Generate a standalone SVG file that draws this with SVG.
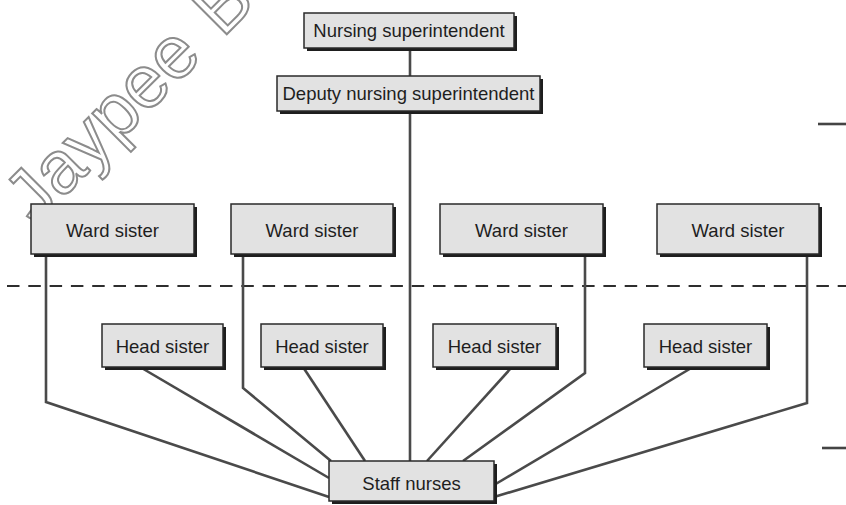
<svg xmlns="http://www.w3.org/2000/svg" width="846" height="505" viewBox="0 0 846 505">
  <style>
    .box { fill: #e2e2e2; stroke: #2a2a2a; stroke-width: 1.5; }
    .shadow { fill: #1e1e1e; }
    .label { font-family: "Liberation Sans", Arial, sans-serif; font-size: 18.5px; fill: #1e1e1e; text-anchor: middle; }
    .link { fill: none; stroke: #4a4a4a; stroke-width: 2.6; stroke-linejoin: miter; }
    .divider { stroke: #2e2e2e; stroke-width: 2.2; stroke-dasharray: 12.5 8.8; }
    .tick { stroke: #444; stroke-width: 2.6; }
    .mark { font-family: "Liberation Sans", Arial, sans-serif; font-size: 74px; fill: none; stroke: #8c8c8c; stroke-width: 2; }
  </style>

  <rect width="846" height="505" fill="#ffffff"/>

  <!-- publisher mark -->
  <text class="mark" transform="translate(35 226) rotate(-45)">Jaypee <tspan dx="6">B</tspan></text>

  <!-- level divider and margin ticks -->
  <line class="divider" x1="7" y1="286" x2="846" y2="286"/>
  <line class="tick" x1="818" y1="124" x2="846" y2="124"/>
  <line class="tick" x1="822" y1="448" x2="846" y2="448"/>

  <!-- reporting lines -->
  <g id="connectors">
    <line class="link" x1="410" y1="48" x2="410" y2="76"/>
    <line class="link" x1="410" y1="111" x2="410" y2="461"/>
    <polyline class="link" points="46,254 46,402 329,497"/>
    <polyline class="link" points="243,254 243,388 331,461"/>
    <polyline class="link" points="585,254 585,373 463,461"/>
    <polyline class="link" points="807,254 807,403 494,497"/>
    <line class="link" x1="140" y1="367" x2="329" y2="478"/>
    <line class="link" x1="303" y1="367" x2="365" y2="461"/>
    <line class="link" x1="512" y1="367" x2="427" y2="461"/>
    <line class="link" x1="693" y1="367" x2="494" y2="485"/>
  </g>

  <g id="nursing-superintendent">
    <rect class="shadow" x="307" y="16" width="210" height="35"/>
    <rect class="box" x="304" y="13" width="210" height="35"/>
    <text class="label" x="409" y="37">Nursing superintendent</text>
  </g>

  <g id="deputy-nursing-superintendent">
    <rect class="shadow" x="280" y="79" width="263" height="35"/>
    <rect class="box" x="277" y="76" width="263" height="35"/>
    <text class="label" x="408.5" y="100">Deputy nursing superintendent</text>
  </g>

  <g id="ward-sister-1">
    <rect class="shadow" x="34" y="207" width="163" height="50"/>
    <rect class="box" x="31" y="204" width="163" height="50"/>
    <text class="label" x="112.5" y="237">Ward sister</text>
  </g>
  <g id="ward-sister-2">
    <rect class="shadow" x="234" y="207" width="162" height="50"/>
    <rect class="box" x="231" y="204" width="162" height="50"/>
    <text class="label" x="312" y="237">Ward sister</text>
  </g>
  <g id="ward-sister-3">
    <rect class="shadow" x="443" y="207" width="163" height="50"/>
    <rect class="box" x="440" y="204" width="163" height="50"/>
    <text class="label" x="521.5" y="237">Ward sister</text>
  </g>
  <g id="ward-sister-4">
    <rect class="shadow" x="660" y="207" width="162" height="50"/>
    <rect class="box" x="657" y="204" width="162" height="50"/>
    <text class="label" x="738" y="237">Ward sister</text>
  </g>

  <g id="head-sister-1">
    <rect class="shadow" x="105" y="327" width="121" height="43"/>
    <rect class="box" x="102" y="324" width="121" height="43"/>
    <text class="label" x="162.5" y="353">Head sister</text>
  </g>
  <g id="head-sister-2">
    <rect class="shadow" x="264" y="327" width="122" height="43"/>
    <rect class="box" x="261" y="324" width="122" height="43"/>
    <text class="label" x="322" y="353">Head sister</text>
  </g>
  <g id="head-sister-3">
    <rect class="shadow" x="436" y="327" width="123" height="43"/>
    <rect class="box" x="433" y="324" width="123" height="43"/>
    <text class="label" x="494.5" y="353">Head sister</text>
  </g>
  <g id="head-sister-4">
    <rect class="shadow" x="647" y="327" width="123" height="43"/>
    <rect class="box" x="644" y="324" width="123" height="43"/>
    <text class="label" x="705.5" y="353">Head sister</text>
  </g>

  <g id="staff-nurses">
    <rect class="shadow" x="332" y="464" width="165" height="40"/>
    <rect class="box" x="329" y="461" width="165" height="40"/>
    <text class="label" x="411.5" y="490">Staff nurses</text>
  </g>
</svg>
